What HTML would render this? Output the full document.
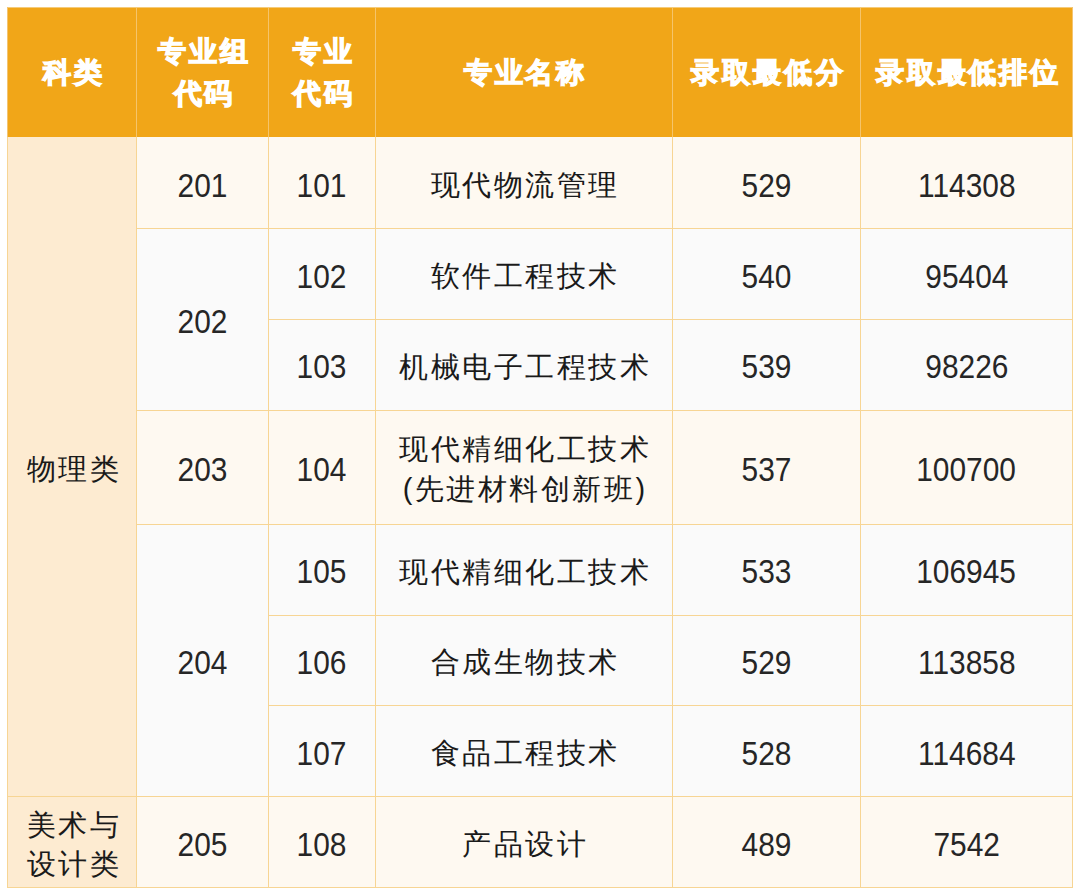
<!DOCTYPE html>
<html><head><meta charset="utf-8"><style>
html,body{margin:0;padding:0;background:#fff;width:1080px;height:895px;overflow:hidden}
body{position:relative;font-family:"Liberation Sans",sans-serif}
.c{position:absolute;box-sizing:border-box;display:flex;align-items:center;justify-content:center;text-align:center}
.l{position:absolute}
.c span{position:relative;display:block}
.h{color:#fff;font-size:28px;font-weight:700;line-height:42px;letter-spacing:2.9px;-webkit-text-stroke:1.3px #fff}
.h span{top:1px;left:1px;padding-left:2.9px}
.b,.b2{color:#1a1a1a;font-size:29px;line-height:40px;letter-spacing:2.5px}
.b span,.b2 span{top:2.5px;padding-left:2.5px;left:1px}
.k span{top:3.5px !important;line-height:39.5px}
.n{color:#262626;font-size:33px;line-height:40px}
.n span{top:3.4px;left:0.5px;transform:scaleX(0.905)}
</style></head><body>
<div class="c h" style="left:7px;top:7px;width:129px;height:130px;background:#F1A618"><span>科类</span></div>
<div class="c h" style="left:136px;top:7px;width:132px;height:130px;background:#F1A618"><span>专业组<br>代码</span></div>
<div class="c h" style="left:268px;top:7px;width:106.5px;height:130px;background:#F1A618"><span>专业<br>代码</span></div>
<div class="c h" style="left:374.5px;top:7px;width:297.0px;height:130px;background:#F1A618"><span>专业名称</span></div>
<div class="c h" style="left:671.5px;top:7px;width:188.5px;height:130px;background:#F1A618"><span>录取最低分</span></div>
<div class="c h" style="left:860px;top:7px;width:212px;height:130px;background:#F1A618"><span>录取最低排位</span></div>
<div class="c b" style="left:7px;top:137px;width:129px;height:659px;background:#FDEBD1"><span>物理类</span></div>
<div class="c b2 k" style="left:7px;top:796px;width:129px;height:91px;background:#FDEBD1"><span>美术与<br>设计类</span></div>
<div class="c n" style="left:136px;top:137px;width:132px;height:91px;background:#FEF9F1"><span>201</span></div>
<div class="c n" style="left:136px;top:228px;width:132px;height:181.5px;background:#FAFAFA"><span>202</span></div>
<div class="c n" style="left:136px;top:409.5px;width:132px;height:114.0px;background:#FEF9F1"><span>203</span></div>
<div class="c n" style="left:136px;top:523.5px;width:132px;height:272.5px;background:#FAFAFA"><span>204</span></div>
<div class="c n" style="left:136px;top:796px;width:132px;height:91px;background:#FEF9F1"><span>205</span></div>
<div class="c n" style="left:268px;top:137px;width:106.5px;height:91px;background:#FEF9F1"><span>101</span></div>
<div class="c b" style="left:374.5px;top:137px;width:297.0px;height:91px;background:#FEF9F1"><span>现代物流管理</span></div>
<div class="c n" style="left:671.5px;top:137px;width:188.5px;height:91px;background:#FEF9F1"><span>529</span></div>
<div class="c n" style="left:860px;top:137px;width:212px;height:91px;background:#FEF9F1"><span>114308</span></div>
<div class="c n" style="left:268px;top:228px;width:106.5px;height:90.5px;background:#FAFAFA"><span>102</span></div>
<div class="c b" style="left:374.5px;top:228px;width:297.0px;height:90.5px;background:#FAFAFA"><span>软件工程技术</span></div>
<div class="c n" style="left:671.5px;top:228px;width:188.5px;height:90.5px;background:#FAFAFA"><span>540</span></div>
<div class="c n" style="left:860px;top:228px;width:212px;height:90.5px;background:#FAFAFA"><span>95404</span></div>
<div class="c n" style="left:268px;top:318.5px;width:106.5px;height:91.0px;background:#FAFAFA"><span>103</span></div>
<div class="c b" style="left:374.5px;top:318.5px;width:297.0px;height:91.0px;background:#FAFAFA"><span>机械电子工程技术</span></div>
<div class="c n" style="left:671.5px;top:318.5px;width:188.5px;height:91.0px;background:#FAFAFA"><span>539</span></div>
<div class="c n" style="left:860px;top:318.5px;width:212px;height:91.0px;background:#FAFAFA"><span>98226</span></div>
<div class="c n" style="left:268px;top:409.5px;width:106.5px;height:114.0px;background:#FEF9F1"><span>104</span></div>
<div class="c b2" style="left:374.5px;top:409.5px;width:297.0px;height:114.0px;background:#FEF9F1"><span>现代精细化工技术<br>(先进材料创新班)</span></div>
<div class="c n" style="left:671.5px;top:409.5px;width:188.5px;height:114.0px;background:#FEF9F1"><span>537</span></div>
<div class="c n" style="left:860px;top:409.5px;width:212px;height:114.0px;background:#FEF9F1"><span>100700</span></div>
<div class="c n" style="left:268px;top:523.5px;width:106.5px;height:91.0px;background:#FAFAFA"><span>105</span></div>
<div class="c b" style="left:374.5px;top:523.5px;width:297.0px;height:91.0px;background:#FAFAFA"><span>现代精细化工技术</span></div>
<div class="c n" style="left:671.5px;top:523.5px;width:188.5px;height:91.0px;background:#FAFAFA"><span>533</span></div>
<div class="c n" style="left:860px;top:523.5px;width:212px;height:91.0px;background:#FAFAFA"><span>106945</span></div>
<div class="c n" style="left:268px;top:614.5px;width:106.5px;height:90.5px;background:#FAFAFA"><span>106</span></div>
<div class="c b" style="left:374.5px;top:614.5px;width:297.0px;height:90.5px;background:#FAFAFA"><span>合成生物技术</span></div>
<div class="c n" style="left:671.5px;top:614.5px;width:188.5px;height:90.5px;background:#FAFAFA"><span>529</span></div>
<div class="c n" style="left:860px;top:614.5px;width:212px;height:90.5px;background:#FAFAFA"><span>113858</span></div>
<div class="c n" style="left:268px;top:705px;width:106.5px;height:91px;background:#FAFAFA"><span>107</span></div>
<div class="c b" style="left:374.5px;top:705px;width:297.0px;height:91px;background:#FAFAFA"><span>食品工程技术</span></div>
<div class="c n" style="left:671.5px;top:705px;width:188.5px;height:91px;background:#FAFAFA"><span>528</span></div>
<div class="c n" style="left:860px;top:705px;width:212px;height:91px;background:#FAFAFA"><span>114684</span></div>
<div class="c n" style="left:268px;top:796px;width:106.5px;height:91px;background:#FEF9F1"><span>108</span></div>
<div class="c b" style="left:374.5px;top:796px;width:297.0px;height:91px;background:#FEF9F1"><span>产品设计</span></div>
<div class="c n" style="left:671.5px;top:796px;width:188.5px;height:91px;background:#FEF9F1"><span>489</span></div>
<div class="c n" style="left:860px;top:796px;width:212px;height:91px;background:#FEF9F1"><span>7542</span></div>
<div class="l" style="left:7px;top:137px;width:1px;height:751px;background:#F7D594"></div>
<div class="l" style="left:136px;top:7px;width:1px;height:130px;background:#F5C46A"></div>
<div class="l" style="left:136px;top:137px;width:1px;height:751px;background:#F7D594"></div>
<div class="l" style="left:268px;top:7px;width:1px;height:130px;background:#F5C46A"></div>
<div class="l" style="left:268px;top:137px;width:1px;height:751px;background:#F7D594"></div>
<div class="l" style="left:374.5px;top:7px;width:1px;height:130px;background:#F5C46A"></div>
<div class="l" style="left:374.5px;top:137px;width:1px;height:751px;background:#F7D594"></div>
<div class="l" style="left:671.5px;top:7px;width:1px;height:130px;background:#F5C46A"></div>
<div class="l" style="left:671.5px;top:137px;width:1px;height:751px;background:#F7D594"></div>
<div class="l" style="left:860px;top:7px;width:1px;height:130px;background:#F5C46A"></div>
<div class="l" style="left:860px;top:137px;width:1px;height:751px;background:#F7D594"></div>
<div class="l" style="left:1072px;top:137px;width:1px;height:751px;background:#F7D594"></div>
<div class="l" style="left:7px;top:7px;width:1066px;height:1px;background:#F5CB7A"></div>
<div class="l" style="left:7px;top:7px;width:1px;height:130px;background:#F4C470"></div>
<div class="l" style="left:1072px;top:7px;width:1px;height:130px;background:#F4C470"></div>
<div class="l" style="left:136px;top:228px;width:937px;height:1px;background:#F7D594"></div>
<div class="l" style="left:268px;top:318.5px;width:805px;height:1px;background:#F7D594"></div>
<div class="l" style="left:136px;top:409.5px;width:937px;height:1px;background:#F7D594"></div>
<div class="l" style="left:136px;top:523.5px;width:937px;height:1px;background:#F7D594"></div>
<div class="l" style="left:268px;top:614.5px;width:805px;height:1px;background:#F7D594"></div>
<div class="l" style="left:268px;top:705px;width:805px;height:1px;background:#F7D594"></div>
<div class="l" style="left:7px;top:796px;width:1066px;height:1px;background:#F7D594"></div>
<div class="l" style="left:7px;top:887px;width:1066px;height:1px;background:#F7D594"></div>
</body></html>
